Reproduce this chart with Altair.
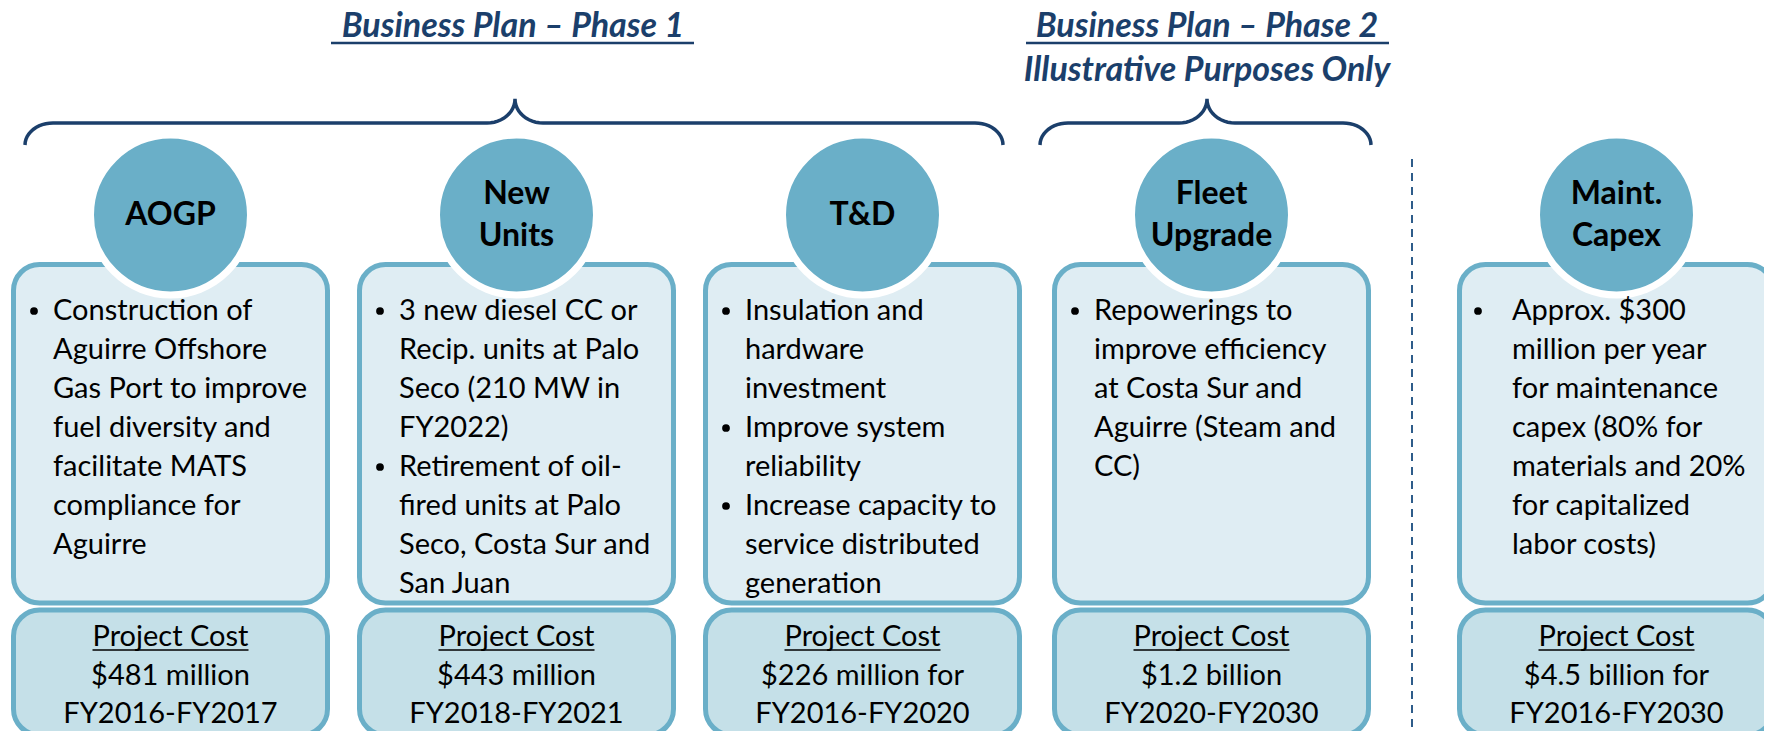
import math
import altair as alt
import pandas as pd

# ---------------- content ----------------
phase_titles = ["Business Plan – Phase 1", "Business Plan – Phase 2"]
phase_subtitle = "Illustrative Purposes Only"
categories = ["AOGP", "New Units", "T&D", "Fleet Upgrade", "Maint. Capex"]
circle_labels = ["AOGP", "New\nUnits", "T&D", "Fleet\nUpgrade", "Maint.\nCapex"]
bullets = [
    [["Construction of", "Aguirre Offshore", "Gas Port to improve", "fuel diversity and",
      "facilitate MATS", "compliance for", "Aguirre"]],
    [["3 new diesel CC or", "Recip. units at Palo", "Seco (210 MW in", "FY2022)"],
     ["Retirement of oil-", "fired units at Palo", "Seco, Costa Sur and", "San Juan"]],
    [["Insulation and", "hardware", "investment"],
     ["Improve system", "reliability"],
     ["Increase capacity to", "service distributed", "generation"]],
    [["Repowerings to", "improve efficiency", "at Costa Sur and", "Aguirre (Steam and", "CC)"]],
    [["Approx. $300", "million per year", "for maintenance", "capex (80% for",
      "materials and 20%", "for capitalized", "labor costs)"]],
]
cost_heading = "Project Cost"
cost_amounts = ["$481 million", "$443 million", "$226 million for", "$1.2 billion", "$4.5 billion for"]
cost_periods = ["FY2016-FY2017", "FY2018-FY2021", "FY2016-FY2020", "FY2020-FY2030", "FY2016-FY2030"]

# ---------------- layout / style ----------------
W, H, M = 1772, 739, 8
box_left = [11, 357, 703, 1052, 1457]
box_w = 319
bullet_dx = [23, 23, 23, 23, 21]
text_dx = [42, 42, 42, 42, 55]
line_y0, line_step = 311, 39
label_lh = 42
NAVY = "#1B3F6B"
TEAL = "#6AAFC8"
LIGHT = "#DFEDF3"
LIGHT2 = "#C5E0E8"
FONT = "Lato"

xs = alt.Scale(domain=[M, W - M], nice=False, zero=False)
ys = alt.Scale(domain=[M, H - M], nice=False, zero=False, reverse=True)


def X(f):
    return alt.X(f, type="quantitative", scale=xs, axis=None)


def Y(f):
    return alt.Y(f, type="quantitative", scale=ys, axis=None)


# ---------------- boxes ----------------
boxes = pd.DataFrame({
    "cat": categories,
    "x": [b + 2.5 for b in box_left],
    "x2": [b + box_w - 2.5 for b in box_left],
})
upper = alt.Chart(boxes).mark_rect(
    fill=LIGHT, stroke=TEAL, strokeWidth=5, cornerRadius=26
).encode(x=X("x"), x2="x2", y=Y("y:Q"), y2="y2:Q").transform_calculate(y="264.5", y2="603")
lower = alt.Chart(boxes).mark_rect(
    fill=LIGHT2, stroke=TEAL, strokeWidth=5, cornerRadius=26
).encode(x=X("x"), x2="x2", y=Y("y:Q"), y2="y2:Q").transform_calculate(y="610", y2="735")

# ---------------- circles ----------------
circ = pd.DataFrame({
    "cat": categories,
    "label": circle_labels,
    "x": [b + box_w / 2 for b in box_left],
    "y": [215] * 5,
    "ty": [215 - (lab.count("\n")) * label_lh / 2 for lab in circle_labels],
})
circles = alt.Chart(circ).mark_point(
    shape="circle", filled=True, fill=TEAL, stroke="white", strokeWidth=7,
    size=160 * 160, opacity=1
).encode(x=X("x"), y=Y("y"))
circle_text = alt.Chart(circ).mark_text(
    font=FONT, fontSize=32, fontWeight="bold", color="black", lineBreak="\n",
    lineHeight=label_lh, baseline="middle", align="center"
).encode(x=X("x"), y=Y("ty"), text="label:N")

# ---------------- bullet text ----------------
rows, dots = [], []
for i, groups in enumerate(bullets):
    k = 0
    for g in groups:
        dots.append({"x": box_left[i] + bullet_dx[i], "y": line_y0 + k * line_step})
        for ln in g:
            rows.append({"x": box_left[i] + text_dx[i], "y": line_y0 + k * line_step, "t": ln})
            k += 1
body = alt.Chart(pd.DataFrame(rows)).mark_text(
    font=FONT, fontSize=29, color="black", align="left", baseline="middle"
).encode(x=X("x"), y=Y("y"), text="t:N")
bullet_marks = alt.Chart(pd.DataFrame(dots)).mark_point(
    shape="circle", filled=True, color="black", size=60, opacity=1
).encode(x=X("x"), y=Y("y"))

# ---------------- cost text ----------------
cost_rows = []
for i in range(5):
    cx = box_left[i] + box_w / 2
    cost_rows.append({"x": cx, "y": 637, "t": cost_heading})
    cost_rows.append({"x": cx, "y": 676, "t": cost_amounts[i]})
    cost_rows.append({"x": cx, "y": 714, "t": cost_periods[i]})
cost_text = alt.Chart(pd.DataFrame(cost_rows)).mark_text(
    font=FONT, fontSize=29, color="black", align="center", baseline="middle"
).encode(x=X("x"), y=Y("y"), text="t:N")
cost_ul = alt.Chart(pd.DataFrame({
    "x": [b + box_w / 2 - 78 for b in box_left],
    "x2": [b + box_w / 2 + 78 for b in box_left],
    "y": [650] * 5,
})).mark_rule(color="black", strokeWidth=1.5).encode(x=X("x"), x2="x2", y=Y("y"))

# ---------------- titles ----------------
titles = pd.DataFrame({
    "x": [513, 1207, 1207],
    "y": [37, 37, 81],
    "t": [phase_titles[0], phase_titles[1], phase_subtitle],
})
title_text = alt.Chart(titles).mark_text(
    font=FONT, fontSize=34, fontWeight="bold", fontStyle="italic", color=NAVY,
    align="center", baseline="alphabetic"
).encode(x=X("x"), y=Y("y"), text="t:N")
title_ul = alt.Chart(pd.DataFrame({
    "x": [331, 1026], "x2": [694, 1389], "y": [43, 43]
})).mark_rule(color=NAVY, strokeWidth=2.5).encode(x=X("x"), x2="x2", y=Y("y"))

# ---------------- braces ----------------
def brace(name, x0, xm, x1, yb=145, yl=123, yp=99, rx=28, ry=22, cx=28):
    pts = []
    n = 12
    for j in range(n + 1):
        th = math.pi / 2 * j / n
        pts.append((x0 + rx - rx * math.cos(th), yb - ry * math.sin(th)))
    for j in range(n + 1):
        th = math.pi / 2 * j / n
        pts.append((xm - cx + cx * math.sin(th), yp + (yl - yp) * math.cos(th)))
    for j in range(n + 1):
        th = math.pi / 2 * (n - j) / n
        pts.append((xm + cx - cx * math.sin(th), yp + (yl - yp) * math.cos(th)))
    for j in range(n + 1):
        th = math.pi / 2 * (n - j) / n
        pts.append((x1 - rx + rx * math.cos(th), yb - ry * math.sin(th)))
    return [{"b": name, "o": k, "x": p[0], "y": p[1]} for k, p in enumerate(pts)]


brace_df = pd.DataFrame(brace("p1", 25, 515, 1003) + brace("p2", 1040, 1207, 1371))
braces = alt.Chart(brace_df).mark_line(color=NAVY, strokeWidth=3.5).encode(
    x=X("x"), y=Y("y"), detail="b:N", order="o:Q"
)

# ---------------- divider ----------------
divider = alt.Chart(pd.DataFrame({"x": [1412], "y": [159], "y2": [739]})).mark_rule(
    color="#2E5C8A", strokeWidth=2, strokeDash=[8, 6]
).encode(x=X("x"), y=Y("y"), y2="y2")

chart = alt.layer(
    upper, lower, circles, circle_text, body, bullet_marks, cost_text, cost_ul,
    title_text, title_ul, braces, divider
).properties(
    width=W - 2 * M, height=H - 2 * M, padding=0,
    autosize=alt.AutoSizeParams(type="none"), background="white"
).configure_view(stroke=None)

chart.save("out.html", embed_options={"renderer": "svg", "actions": False})
